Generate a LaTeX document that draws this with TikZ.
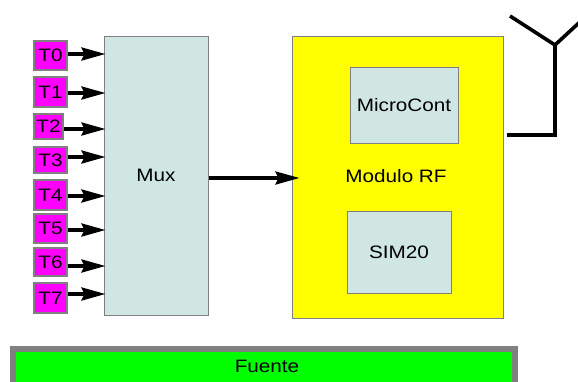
\documentclass[tikz,border=0pt]{standalone}
\usepackage{fontspec}
\setmainfont{Liberation Sans}
\usetikzlibrary{arrows.meta}
\definecolor{boxgray}{RGB}{128,128,128}
\definecolor{lightcyan}{RGB}{208,230,227}
\definecolor{tmag}{RGB}{255,0,255}
\definecolor{ryellow}{RGB}{255,255,0}
\definecolor{rgreen}{RGB}{0,255,0}
\newcommand{\wtext}[1]{\scalebox{1.15}[1]{#1}}
\begin{document}
\begin{tikzpicture}[x=1pt,y=-1pt,
  lab/.style={font=\fontsize{18}{20}\selectfont},
  tbox/.style={draw=boxgray,line width=1.5pt,fill=tmag,inner sep=0pt,minimum width=33pt,lab},
  block/.style={draw=boxgray,line width=1pt,inner sep=0pt,lab},
  arr/.style={line width=3.4pt,-{Stealth[length=24pt,width=13pt,inset=3pt]}},
  ant/.style={line width=3.6pt}]
\useasboundingbox (0,0) rectangle (578,381);
\clip (0,0) rectangle (578,381);
% Mux
\node[block,fill=lightcyan,minimum width=104pt,minimum height=279pt] (mux) at (156,175.5) {\wtext{Mux}};
% T boxes
\node[tbox,minimum height=29pt] (t0) at (50.5,55.5) {\wtext{T0}};
\node[tbox,minimum height=30pt] (t1) at (50.5,92) {\wtext{T1}};
\node[tbox,minimum width=29pt,minimum height=25pt] (t2) at (48.5,126.5) {\wtext{T2}};
\node[tbox,minimum height=26pt] (t3) at (50.5,160) {\wtext{T3}};
\node[tbox,minimum height=30pt] (t4) at (50.5,195) {\wtext{T4}};
\node[tbox,minimum height=29pt] (t5) at (50.5,228.5) {\wtext{T5}};
\node[tbox,minimum height=28pt] (t6) at (50.5,262) {\wtext{T6}};
\node[tbox,minimum height=30pt] (t7) at (50.5,298) {\wtext{T7}};
\foreach \t/\yy in {t0/54,t1/93,t2/129,t3/157,t4/196,t5/230,t6/266,t7/294}{
  \draw[arr,shorten >=-2pt] (\t.east |- 0,\yy) -- (mux.west |- 0,\yy);
}
% Modulo RF
\node[block,fill=ryellow,minimum width=211pt,minimum height=282pt] (rf) at (397.5,177) {};
\node[lab] (rflab) at (396,176) {\wtext{Modulo RF}};
\node[block,fill=lightcyan,minimum width=108pt,minimum height=76pt] (mc) at (404,105) {\wtext{MicroCont}};
\node[block,fill=lightcyan,minimum width=104pt,minimum height=82pt] (sim) at (399,252) {\wtext{SIM20}};
\draw[arr,shorten >=-8pt] (mux.east |- 0,178) -- (rf.west |- 0,178);
% Antenna
\coordinate (a0) at (507,135);
\coordinate (a1) at (555,135);
\coordinate (a2) at (555,45);
\coordinate (a3) at (510,16);
\coordinate (a4) at (582,20);
\draw[ant] (a0) -- (a1) -- (a2) -- (a3);
\draw[ant] (a2) -- (a4);
% Fuente
\node[draw=boxgray,line width=6pt,fill=rgreen,minimum width=502pt,minimum height=40pt,inner sep=0pt] (fu) at (264,369) {};
\node[lab] (fulab) at (267,366) {\wtext{Fuente}};
\end{tikzpicture}
\end{document}
